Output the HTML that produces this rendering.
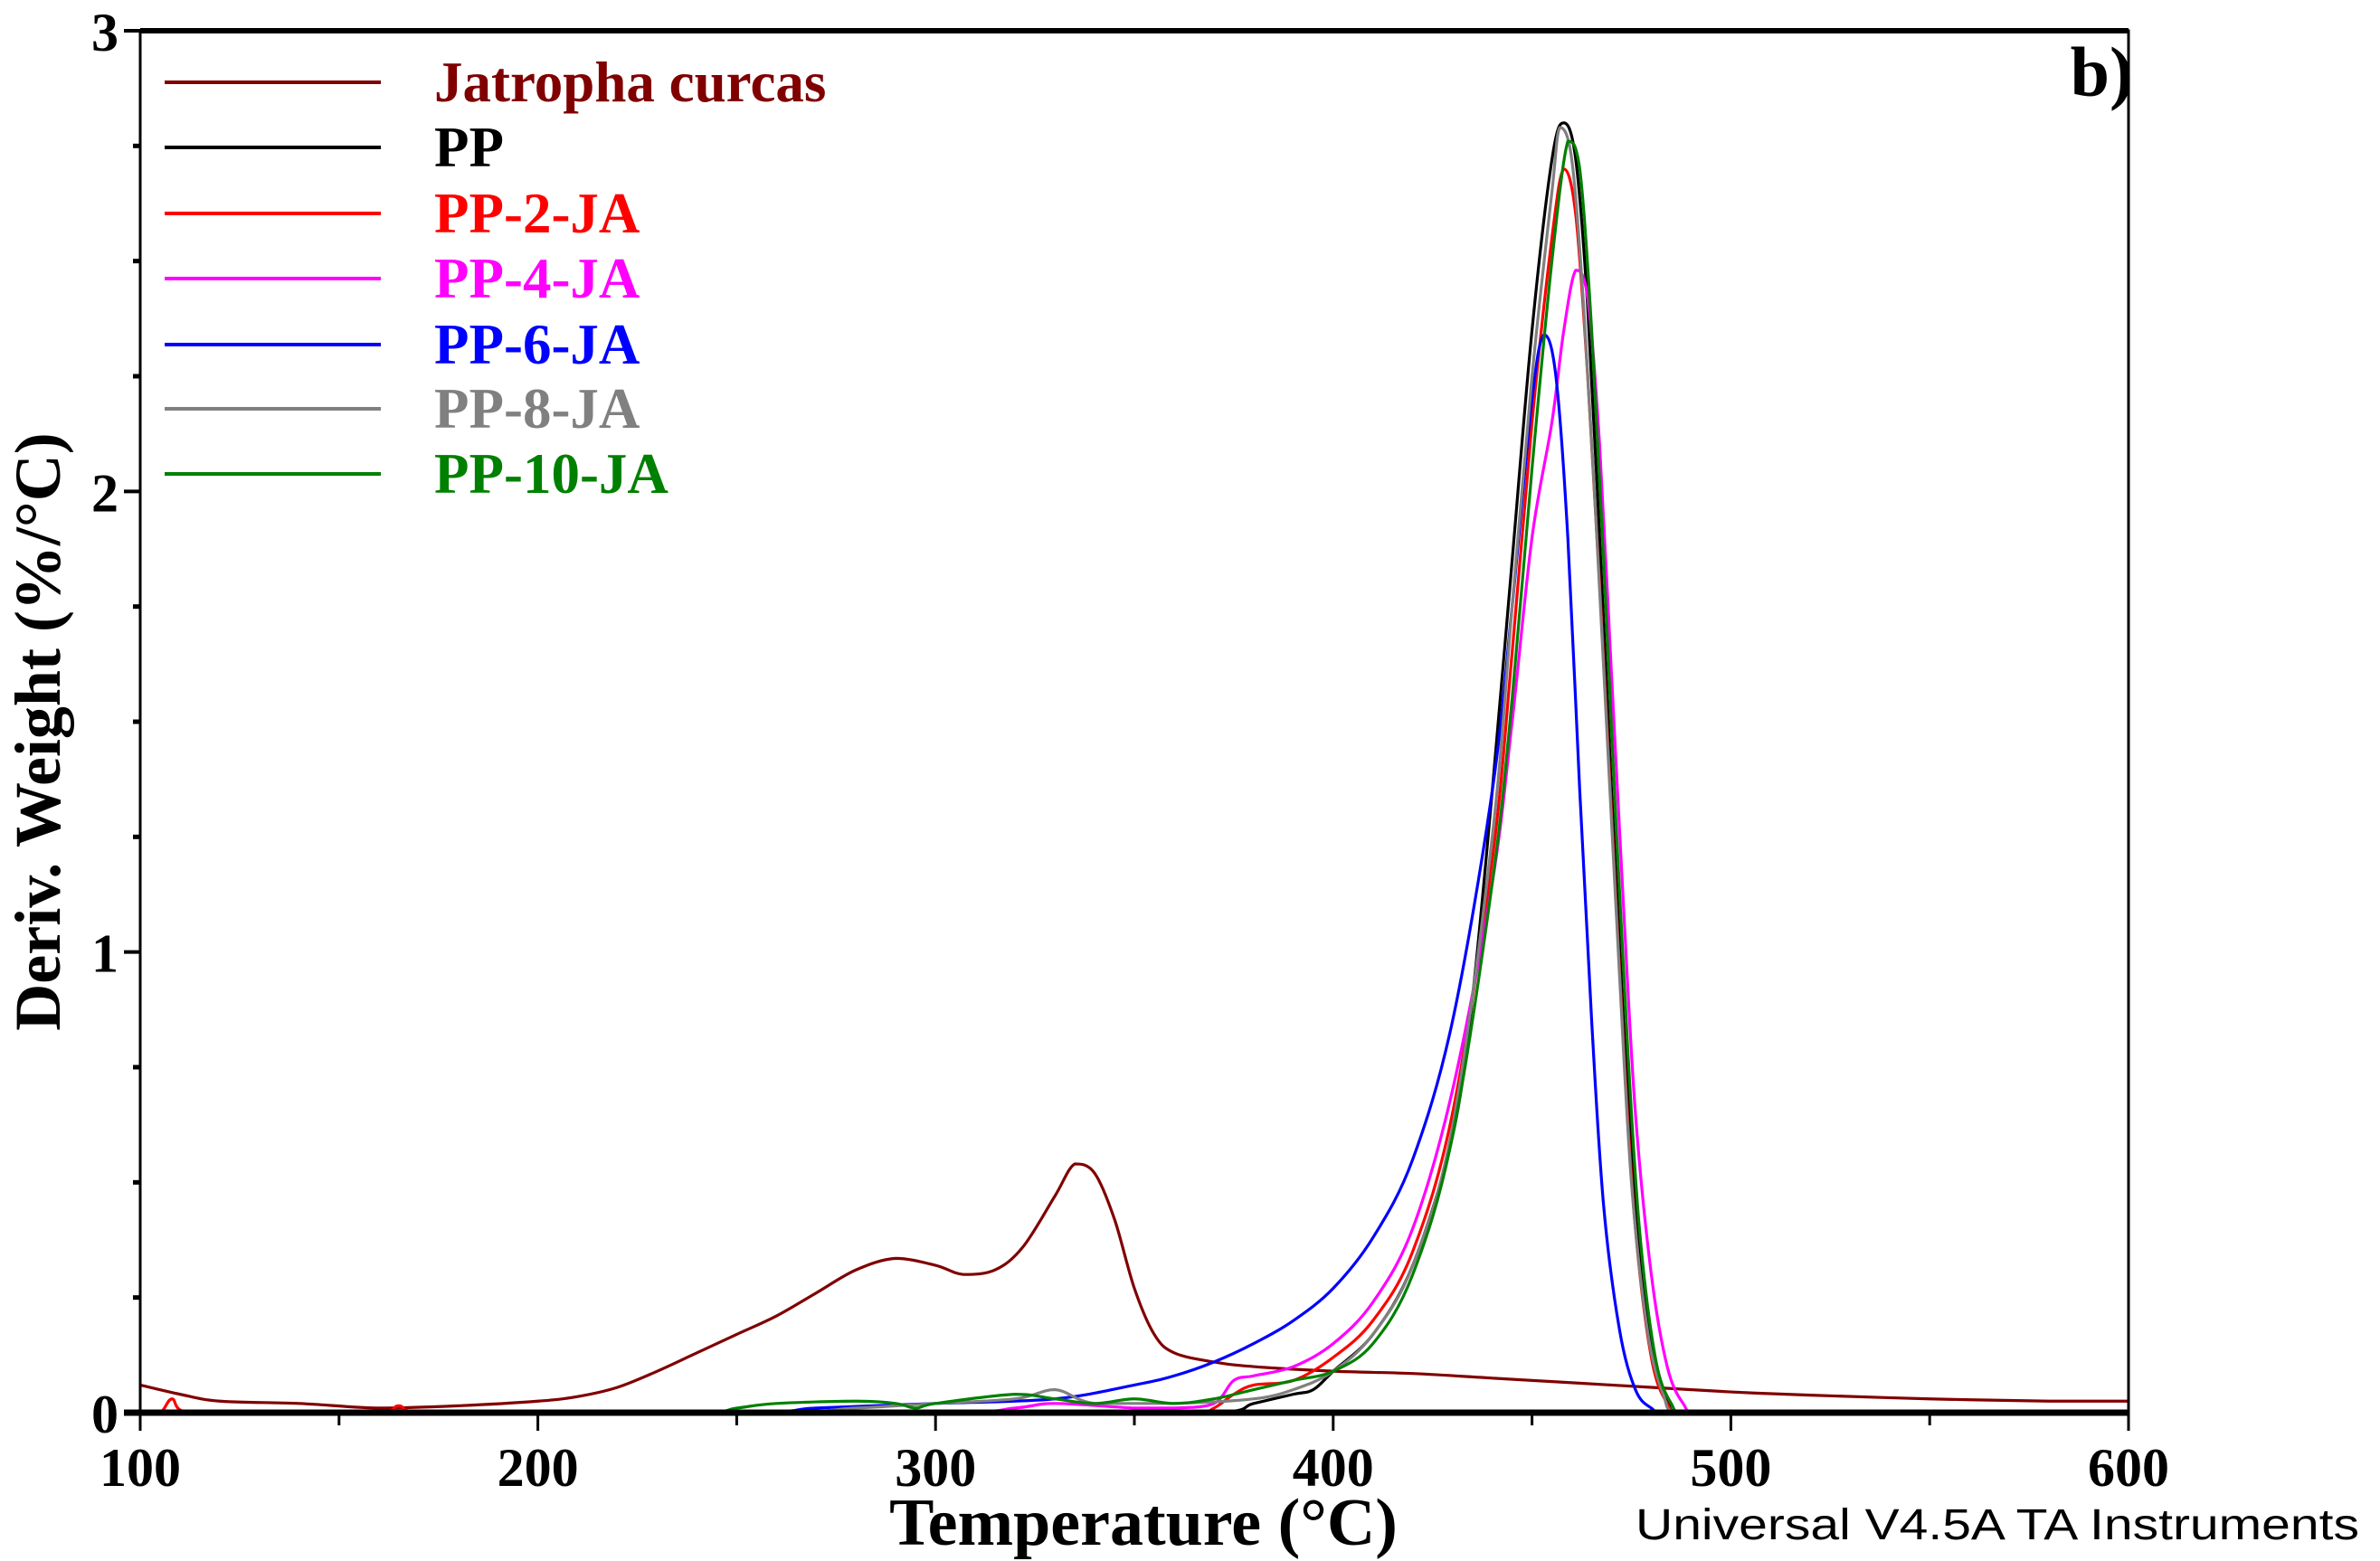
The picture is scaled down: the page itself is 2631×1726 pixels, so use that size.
<!DOCTYPE html>
<html><head><meta charset="utf-8"><style>
html,body{margin:0;padding:0;background:#fff;}
svg{display:block;}
</style></head><body>
<svg id="chart" width="2631" height="1726" viewBox="0 0 2631 1726" xmlns="http://www.w3.org/2000/svg">
<g id="plot"></g>
</svg>
<script>
const xTicks=[100,200,300,400,500,600];
const yTicks=[0,1,2,3];
const seriesNames=["Jatropha curcas","PP","PP-2-JA","PP-4-JA","PP-6-JA","PP-8-JA","PP-10-JA"];
const seriesColors=["#800000","#000000","#ff0000","#ff00ff","#0000ff","#808080","#008000"];
const jcT=[100,110,120,140,160,180,200,210,220,230,240,250,260,270,280,290,300,307,315,322,330,335,340,345,350,355,360,370,380,400,420,440,460,480,500,520,550,580,600];
const jcV=[0.06,0.04,0.025,0.02,0.01,0.015,0.025,0.035,0.055,0.09,0.13,0.17,0.21,0.26,0.31,0.335,0.32,0.30,0.31,0.36,0.47,0.54,0.52,0.42,0.27,0.17,0.13,0.11,0.10,0.09,0.085,0.075,0.065,0.055,0.045,0.038,0.03,0.025,0.025];
const ppT=[100,370,380,390,395,400,410,420,430,435,440,445,450,455,458,461,464,467,470,473,476,480,484,487,600];
const ppV=[0,0,0.02,0.04,0.05,0.09,0.17,0.32,0.6,0.9,1.35,1.85,2.35,2.72,2.80,2.72,2.4,1.9,1.35,0.85,0.45,0.15,0.03,0,0];
const pp2T=[100,105,108,112,160,165,170,365,370,375,380,390,400,410,420,430,440,445,450,455,458,461,464,467,470,473,476,480,484,488,600];
const pp2V=[0,0,0.03,0,0,0.015,0,0,0.01,0.04,0.06,0.07,0.12,0.2,0.35,0.65,1.2,1.65,2.15,2.55,2.70,2.6,2.25,1.8,1.3,0.8,0.4,0.12,0.02,0,0];
const pp4T=[100,300,320,330,350,360,370,375,380,390,400,410,420,430,440,445,450,455,458,461,464,467,470,473,476,480,484,488,492,600];
const pp4V=[0,0,0.01,0.02,0.01,0.01,0.02,0.07,0.08,0.1,0.15,0.24,0.4,0.7,1.15,1.5,1.9,2.15,2.35,2.48,2.42,2.1,1.6,1.1,0.65,0.3,0.1,0.02,0,0];
const pp6T=[100,250,270,300,330,350,360,370,380,390,400,410,420,430,440,445,450,453,456,459,462,465,468,472,476,480,484,600];
const pp6V=[0,0,0.01,0.02,0.03,0.06,0.08,0.11,0.15,0.2,0.27,0.38,0.55,0.85,1.35,1.75,2.2,2.34,2.25,1.9,1.35,0.85,0.45,0.18,0.05,0.01,0,0];
const pp8T=[100,250,280,300,320,330,340,360,380,390,400,410,420,430,440,445,450,455,457,460,463,466,469,472,475,479,483,487,600];
const pp8V=[0,0,0.01,0.02,0.03,0.05,0.02,0.02,0.03,0.05,0.09,0.17,0.32,0.62,1.25,1.75,2.25,2.65,2.79,2.72,2.4,1.95,1.45,0.95,0.5,0.18,0.04,0,0];
const pp10T=[100,240,250,260,280,290,295,300,320,330,340,350,360,370,380,390,400,410,420,430,440,445,450,455,459,462,465,468,471,474,477,481,485,489,600];
const pp10V=[0,0,0.01,0.02,0.025,0.02,0.01,0.02,0.04,0.03,0.02,0.03,0.02,0.03,0.05,0.07,0.09,0.15,0.3,0.6,1.15,1.55,2.05,2.5,2.76,2.7,2.35,1.85,1.3,0.8,0.4,0.12,0.02,0,0];
const allT=[jcT,ppT,pp2T,pp4T,pp6T,pp8T,pp10T];
const allV=[jcV,ppV,pp2V,pp4V,pp6V,pp8V,pp10V];

const L=155,R=2353,T=34,B=1562;
const xs=t=>L+(t-100)/500*(R-L);
const ys=v=>B-v/3*(B-T);
const NS="http://www.w3.org/2000/svg";
const g=document.getElementById('plot');
function mk(tag,attrs,parent){const e=document.createElementNS(NS,tag);for(const k in attrs)e.setAttribute(k,attrs[k]);(parent||g).appendChild(e);return e;}
const serif='"Liberation Serif", serif';
const clampY=(c,a,b)=>Math.max(Math.min(a,b),Math.min(Math.max(a,b),c));

allT.forEach((ts,i)=>{
  const vs=allV[i];
  let d='';
  for(let j=0;j<ts.length;j++){
    const x=xs(ts[j]),y=ys(vs[j]);
    if(j===0){d='M'+x+','+y;continue;}
    const x0=xs(ts[Math.max(j-2,0)]),y0=ys(vs[Math.max(j-2,0)]);
    const x1=xs(ts[j-1]),y1=ys(vs[j-1]);
    const x3=xs(ts[Math.min(j+1,ts.length-1)]),y3=ys(vs[Math.min(j+1,ts.length-1)]);
    const c1x=clampY(x1+(x-x0)/6,x1,x),c1y=clampY(y1+(y-y0)/6,y1,y);
    const c2x=clampY(x-(x3-x1)/6,x1,x),c2y=clampY(y-(y3-y1)/6,y1,y);
    d+=' C'+c1x+','+c1y+' '+c2x+','+c2y+' '+x+','+y;
  }
  const p=mk('path',{d:d,fill:'none',stroke:seriesColors[i],'stroke-width':3.2,'stroke-linejoin':'round'});
  
  
});

const fr=mk('rect',{x:L,y:T,width:R-L,height:B-T,fill:'none',stroke:'#000','stroke-width':3});


const topAxis=mk('line',{x1:L,y1:T,x2:R,y2:T,stroke:'#000','stroke-width':6});


const botAxis=mk('line',{x1:L-18,y1:B,x2:R,y2:B,stroke:'#000','stroke-width':7});



for(let t=100;t<=600;t+=50){
  const major=xTicks.includes(t);
  const tk=mk('line',{x1:xs(t),y1:B,x2:xs(t),y2:B+(major?20:14),stroke:'#000','stroke-width':3});
  
  
}
xTicks.forEach(t=>{
  const tx=mk('text',{x:xs(t),y:1643,'text-anchor':'middle','font-family':serif,'font-weight':'bold','font-size':60});
  tx.textContent=t;
  
  
});
for(let v=0;v<=3.001;v+=0.25){
  const major=Math.abs(v-Math.round(v))<1e-6;
  const tk=mk('line',{x1:L-(major?18:8),y1:ys(v),x2:L,y2:ys(v),stroke:'#000','stroke-width':major?4:5});
  
  
}
yTicks.forEach(v=>{
  const tx=mk('text',{x:L-24,y:ys(v)+22,'text-anchor':'end','font-family':serif,'font-weight':'bold','font-size':60});
  tx.textContent=v;
  
  
});

const xt=mk('text',{x:1264,y:1708,'text-anchor':'middle','font-family':serif,'font-weight':'bold','font-size':74});
xt.textContent='Temperature (°C)';


const yt=mk('text',{x:0,y:0,'text-anchor':'middle','font-family':serif,'font-weight':'bold','font-size':72,transform:'translate(66,809) rotate(-90)'});
yt.textContent='Deriv. Weight (%/°C)';


const panelLabel=mk('text',{x:2358,y:106,'text-anchor':'end','font-family':serif,'font-weight':'bold','font-size':78});
panelLabel.textContent='b)';


const instNote=mk('text',{x:1808,y:1702,'font-family':'"Liberation Sans", sans-serif','font-size':48,textLength:800,lengthAdjust:'spacingAndGlyphs'});
instNote.textContent='Universal V4.5A TA Instruments';



const legY=[91,163,236,308,381,452,524];
seriesNames.forEach((n,i)=>{
  const ln=mk('line',{x1:182,y1:legY[i],x2:421,y2:legY[i],stroke:seriesColors[i],'stroke-width':4});
  
  
  const tx=mk('text',{x:480,y:legY[i]+21,'font-family':serif,'font-weight':'bold','font-size':63,fill:seriesColors[i]});
  tx.textContent=n;
  
  
});
</script>
</body></html>
